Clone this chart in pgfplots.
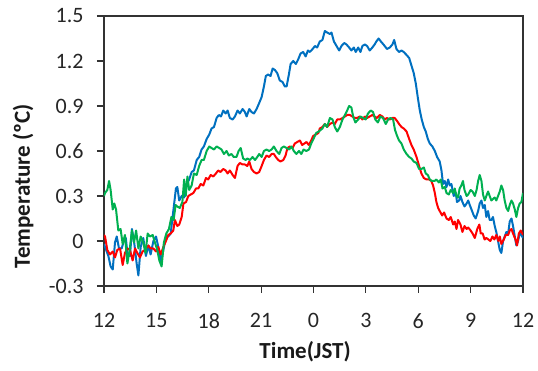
\documentclass[border=0pt]{standalone}
\usepackage{fontspec}
\setmainfont{Carlito}
\usepackage{pgfplots}
\pgfplotsset{compat=1.18}
\definecolor{cblue}{RGB}{0,112,192}
\definecolor{cred}{RGB}{255,0,0}
\definecolor{cgreen}{RGB}{0,176,80}
\begin{document}
\begin{tikzpicture}
\begin{axis}[
  name=ax,
  scale only axis,
  width=419pt, height=270pt,
  xmin=0, xmax=24, ymin=-0.3, ymax=1.5,
  xtick={0,3,6,9,12,15,18,21,24},
  xticklabels={12,15,18,21,0,3,6,9,12},
  ytick={-0.3,0,0.3,0.6,0.9,1.2,1.5},
  yticklabels={-0.3,0,0.3,0.6,0.9,1.2,1.5},
  tick align=outside,
  major tick length=7pt,
  tick style={line width=1.2pt, black!80},
  axis line style={line width=1.3pt, black!80},
  xtick pos=bottom, ytick pos=left,
  ticklabel style={font=\fontsize{22}{24}\selectfont, text=black!85},
  xticklabel style={yshift=-17pt},
  yticklabel style={xshift=-10pt},
  xlabel={\textbf{Time(JST)}},
  ylabel={\textbf{Temperature (ºC)}},
  label style={font=\fontsize{23}{26}\selectfont, text=black!90},
  xlabel style={at={(axis description cs:0.48,0)}, anchor=north, yshift=-52pt},
  ylabel style={at={(axis description cs:-0.193,0.37)}, anchor=center},
  every axis plot/.append style={line width=2pt, line join=round},
  clip=true,
]
% blue
\addplot[cblue] coordinates {
(0.00,-0.02)(0.06,-0.04)(0.25,-0.10)(0.38,-0.17)(0.50,-0.19)(0.63,-0.01)(0.73,0.03)(0.86,-0.05)(1.01,-0.05)(1.14,0.00)(1.25,0.02)(1.35,-0.09)(1.49,-0.10)(1.60,0.08)(1.74,-0.02)(1.87,-0.15)(1.97,-0.23)(2.10,-0.04)(2.25,0.02)(2.40,-0.10)(2.54,-0.03)(2.67,-0.09)(2.83,0.00)(2.98,0.03)(3.11,-0.04)(3.26,-0.14)(3.40,-0.06)(3.55,0.03)(3.68,0.03)(3.82,0.05)(3.97,0.20)(4.12,0.35)(4.20,0.36)(4.31,0.27)(4.45,0.30)(4.59,0.29)(4.73,0.38)(4.88,0.41)(5.02,0.46)(5.15,0.47)(5.31,0.54)(5.45,0.56)(5.59,0.61)(5.72,0.63)(5.88,0.68)(6.03,0.71)(6.16,0.75)(6.30,0.76)(6.45,0.82)(6.58,0.84)(6.70,0.83)(6.83,0.87)(6.97,0.85)(7.08,0.87)(7.21,0.82)(7.37,0.81)(7.50,0.83)(7.65,0.87)(7.78,0.85)(7.94,0.88)(8.07,0.86)(8.17,0.83)(8.32,0.88)(8.45,0.86)(8.59,0.85)(8.74,0.88)(8.89,0.92)(9.03,0.96)(9.16,1.03)(9.27,1.10)(9.40,1.11)(9.54,1.10)(9.66,1.15)(9.79,1.14)(9.92,1.12)(10.07,1.07)(10.23,1.06)(10.36,1.03)(10.46,1.03)(10.59,1.11)(10.69,1.18)(10.84,1.20)(10.99,1.18)(11.12,1.21)(11.26,1.25)(11.41,1.26)(11.55,1.23)(11.68,1.27)(11.79,1.26)(11.95,1.28)(12.08,1.30)(12.21,1.29)(12.36,1.33)(12.51,1.34)(12.65,1.40)(12.78,1.39)(12.94,1.38)(13.03,1.39)(13.17,1.33)(13.32,1.30)(13.47,1.27)(13.60,1.30)(13.76,1.32)(13.89,1.31)(14.04,1.29)(14.17,1.27)(14.31,1.29)(14.42,1.26)(14.56,1.29)(14.69,1.26)(14.80,1.30)(14.94,1.31)(15.07,1.30)(15.22,1.27)(15.37,1.29)(15.50,1.31)(15.60,1.33)(15.73,1.35)(15.86,1.33)(16.01,1.31)(16.21,1.28)(16.37,1.29)(16.52,1.31)(16.62,1.34)(16.75,1.28)(16.90,1.26)(17.04,1.27)(17.17,1.26)(17.33,1.24)(17.48,1.22)(17.61,1.17)(17.74,1.12)(17.86,1.05)(17.97,0.96)(18.09,0.87)(18.20,0.81)(18.32,0.76)(18.43,0.73)(18.55,0.68)(18.66,0.65)(18.81,0.63)(18.95,0.60)(19.08,0.56)(19.23,0.53)(19.33,0.47)(19.42,0.38)(19.52,0.40)(19.62,0.36)(19.71,0.41)(19.81,0.37)(19.90,0.38)(20.03,0.30)(20.15,0.32)(20.22,0.26)(20.34,0.27)(20.42,0.30)(20.53,0.26)(20.65,0.23)(20.77,0.25)(20.86,0.27)(20.95,0.24)(21.05,0.21)(21.18,0.17)(21.29,0.15)(21.43,0.20)(21.52,0.25)(21.62,0.27)(21.71,0.22)(21.81,0.24)(21.90,0.16)(22.00,0.20)(22.09,0.14)(22.19,0.14)(22.28,0.16)(22.38,0.10)(22.47,0.06)(22.57,0.00)(22.67,-0.06)(22.76,-0.08)(22.86,0.00)(22.95,0.03)(23.05,0.06)(23.15,0.05)(23.24,0.13)(23.34,0.15)(23.43,0.10)(23.53,0.03)(23.62,-0.03)(23.72,0.00)(23.81,0.05)(23.91,0.04)(24.00,0.02)
};
% red
\addplot[cred] coordinates {
(0.00,0.04)(0.06,0.03)(0.19,-0.06)(0.34,-0.09)(0.50,-0.07)(0.63,-0.11)(0.76,-0.06)(0.92,-0.05)(1.07,-0.16)(1.20,-0.08)(1.34,-0.05)(1.49,-0.06)(1.64,-0.13)(1.78,-0.05)(1.91,-0.08)(2.06,-0.11)(2.21,-0.07)(2.35,-0.06)(2.54,-0.03)(2.67,-0.05)(2.83,-0.05)(2.98,-0.07)(3.11,-0.04)(3.25,-0.09)(3.40,-0.04)(3.55,0.00)(3.68,0.04)(3.82,0.05)(3.97,0.07)(4.06,0.14)(4.20,0.10)(4.31,0.11)(4.45,0.16)(4.55,0.25)(4.70,0.26)(4.83,0.30)(4.97,0.31)(5.12,0.32)(5.27,0.35)(5.40,0.35)(5.54,0.38)(5.69,0.37)(5.84,0.42)(5.97,0.41)(6.11,0.44)(6.26,0.43)(6.41,0.45)(6.54,0.47)(6.67,0.46)(6.83,0.48)(6.97,0.47)(7.08,0.45)(7.21,0.47)(7.37,0.44)(7.50,0.42)(7.65,0.50)(7.78,0.52)(7.94,0.51)(8.07,0.51)(8.21,0.50)(8.32,0.53)(8.45,0.48)(8.59,0.46)(8.74,0.45)(8.89,0.46)(9.03,0.50)(9.16,0.54)(9.31,0.57)(9.46,0.56)(9.60,0.58)(9.73,0.58)(9.84,0.56)(9.98,0.54)(10.11,0.53)(10.27,0.54)(10.40,0.57)(10.51,0.62)(10.65,0.63)(10.80,0.62)(10.93,0.65)(11.07,0.66)(11.22,0.67)(11.35,0.64)(11.48,0.65)(11.60,0.66)(11.73,0.64)(11.87,0.67)(11.98,0.70)(12.13,0.71)(12.28,0.72)(12.36,0.75)(12.51,0.76)(12.65,0.78)(12.78,0.76)(12.94,0.78)(13.09,0.79)(13.22,0.78)(13.36,0.81)(13.51,0.81)(13.66,0.82)(13.80,0.83)(13.93,0.84)(14.08,0.84)(14.23,0.83)(14.36,0.82)(14.50,0.82)(14.65,0.83)(14.80,0.81)(14.94,0.83)(15.07,0.82)(15.22,0.83)(15.37,0.84)(15.50,0.83)(15.63,0.82)(15.80,0.84)(15.95,0.83)(16.08,0.81)(16.21,0.82)(16.37,0.81)(16.52,0.82)(16.65,0.82)(16.79,0.80)(16.90,0.78)(17.04,0.76)(17.17,0.75)(17.33,0.73)(17.48,0.68)(17.61,0.64)(17.74,0.61)(17.90,0.56)(18.05,0.50)(18.18,0.45)(18.32,0.42)(18.47,0.41)(18.62,0.41)(18.75,0.40)(18.85,0.37)(18.95,0.32)(19.04,0.26)(19.14,0.22)(19.23,0.20)(19.37,0.17)(19.48,0.19)(19.62,0.15)(19.75,0.14)(19.86,0.16)(20.00,0.11)(20.09,0.13)(20.19,0.08)(20.28,0.14)(20.42,0.11)(20.53,0.06)(20.65,0.10)(20.77,0.08)(20.86,0.09)(21.00,0.07)(21.11,0.05)(21.24,0.02)(21.38,0.08)(21.50,0.11)(21.58,0.05)(21.69,0.05)(21.80,0.01)(21.90,0.02)(22.02,0.01)(22.13,0.00)(22.25,0.03)(22.36,0.01)(22.47,0.04)(22.59,0.00)(22.67,0.03)(22.76,-0.02)(22.90,0.01)(23.01,0.04)(23.15,0.04)(23.24,0.07)(23.34,0.08)(23.43,0.05)(23.57,0.01)(23.66,-0.03)(23.76,0.05)(23.87,0.07)(24.00,0.04)
};
% green
\addplot[cgreen] coordinates {
(0.00,0.30)(0.06,0.32)(0.19,0.34)(0.29,0.40)(0.38,0.34)(0.50,0.21)(0.59,0.25)(0.69,0.21)(0.82,0.07)(0.95,0.08)(1.07,-0.02)(1.20,0.04)(1.34,-0.15)(1.47,-0.06)(1.60,0.07)(1.72,-0.01)(1.84,0.07)(1.97,-0.05)(2.10,0.03)(2.25,-0.01)(2.38,-0.08)(2.50,0.05)(2.63,0.03)(2.79,0.04)(2.92,-0.01)(3.05,-0.06)(3.17,-0.13)(3.30,-0.17)(3.43,-0.01)(3.57,0.05)(3.72,0.08)(3.86,0.16)(3.99,0.14)(4.10,0.24)(4.20,0.23)(4.34,0.22)(4.49,0.26)(4.59,0.41)(4.68,0.30)(4.78,0.43)(4.88,0.34)(5.02,0.37)(5.15,0.45)(5.31,0.44)(5.45,0.50)(5.59,0.54)(5.72,0.54)(5.88,0.60)(6.03,0.63)(6.16,0.62)(6.30,0.61)(6.45,0.63)(6.60,0.62)(6.73,0.61)(6.87,0.58)(7.02,0.60)(7.15,0.57)(7.30,0.58)(7.43,0.56)(7.59,0.56)(7.71,0.60)(7.83,0.62)(7.97,0.55)(8.12,0.54)(8.21,0.55)(8.36,0.54)(8.51,0.56)(8.65,0.54)(8.78,0.56)(8.89,0.58)(9.03,0.56)(9.16,0.60)(9.31,0.61)(9.46,0.60)(9.60,0.61)(9.73,0.63)(9.88,0.60)(10.04,0.58)(10.17,0.62)(10.30,0.63)(10.46,0.62)(10.61,0.61)(10.74,0.63)(10.87,0.60)(11.02,0.58)(11.17,0.60)(11.30,0.58)(11.43,0.61)(11.59,0.60)(11.74,0.61)(11.87,0.65)(12.00,0.68)(12.15,0.72)(12.30,0.73)(12.51,0.75)(12.65,0.78)(12.78,0.76)(12.94,0.82)(13.09,0.81)(13.22,0.76)(13.36,0.73)(13.51,0.76)(13.66,0.81)(13.80,0.84)(13.93,0.87)(14.04,0.90)(14.17,0.89)(14.27,0.83)(14.40,0.79)(14.56,0.81)(14.69,0.83)(14.84,0.82)(14.99,0.81)(15.12,0.85)(15.28,0.87)(15.41,0.86)(15.54,0.81)(15.69,0.79)(15.83,0.83)(15.98,0.82)(16.14,0.78)(16.27,0.81)(16.40,0.82)(16.56,0.81)(16.67,0.74)(16.79,0.70)(16.90,0.67)(17.04,0.65)(17.17,0.61)(17.33,0.58)(17.48,0.56)(17.61,0.55)(17.74,0.53)(17.90,0.52)(18.05,0.48)(18.18,0.48)(18.32,0.49)(18.43,0.45)(18.55,0.44)(18.66,0.41)(18.79,0.40)(18.93,0.40)(19.04,0.41)(19.18,0.39)(19.29,0.41)(19.39,0.35)(19.52,0.36)(19.62,0.32)(19.75,0.31)(19.86,0.34)(20.00,0.32)(20.09,0.35)(20.19,0.30)(20.28,0.29)(20.37,0.35)(20.47,0.37)(20.56,0.40)(20.65,0.34)(20.77,0.30)(20.86,0.31)(21.00,0.34)(21.11,0.33)(21.24,0.30)(21.34,0.34)(21.43,0.40)(21.52,0.44)(21.62,0.40)(21.71,0.31)(21.81,0.27)(21.90,0.30)(22.00,0.33)(22.09,0.30)(22.19,0.27)(22.28,0.28)(22.38,0.29)(22.47,0.27)(22.57,0.30)(22.67,0.33)(22.76,0.37)(22.86,0.34)(22.95,0.27)(23.05,0.22)(23.15,0.20)(23.24,0.24)(23.34,0.27)(23.43,0.25)(23.53,0.21)(23.62,0.16)(23.72,0.22)(23.81,0.25)(23.91,0.26)(24.00,0.32)
};
\end{axis}
\pgfresetboundingbox
\path ([xshift=-104pt,yshift=-85pt]ax.south west) rectangle ([xshift=15pt,yshift=16pt]ax.north east);
\end{tikzpicture}
\end{document}
